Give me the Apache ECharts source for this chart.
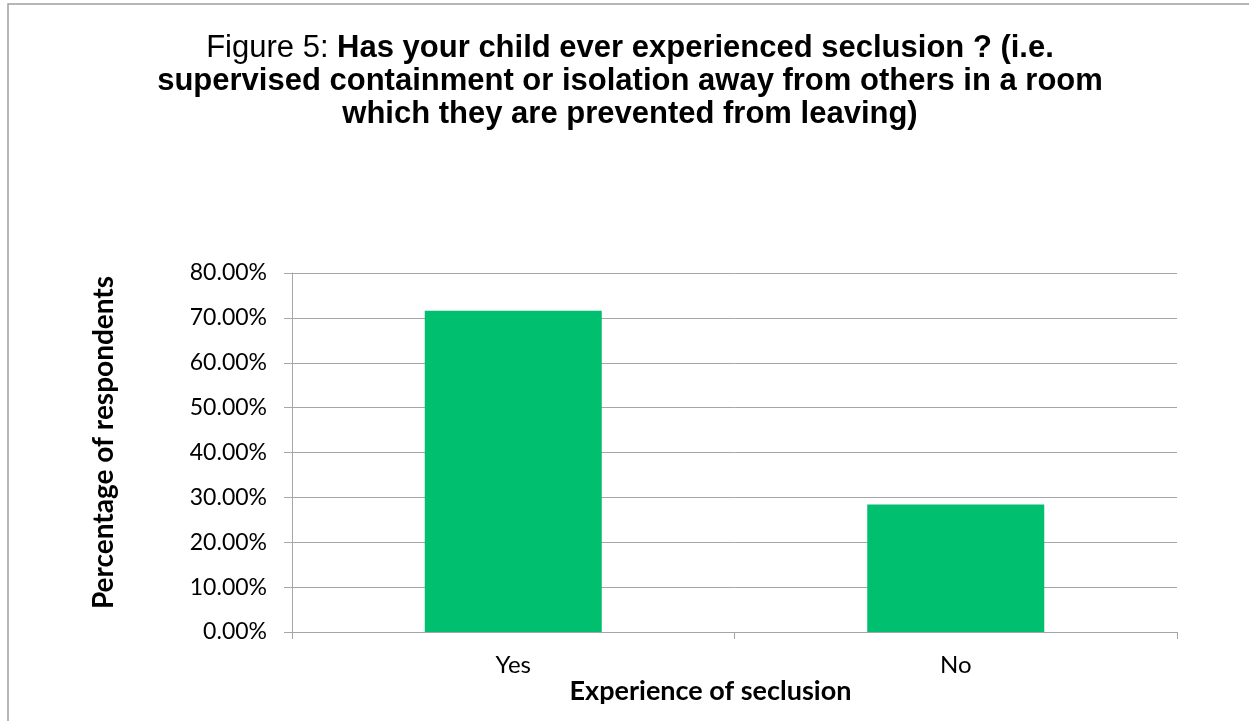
<!DOCTYPE html>
<html>
<head>
<meta charset="utf-8">
<script src="https://cdn.jsdelivr.net/npm/echarts@6/dist/echarts.min.js"></script>
<style>
html,body{margin:0;padding:0;background:#fff;}
#chart{width:1249px;height:721px;}
</style>
</head>
<body>
<div id="chart"></div>
<script>
const categories = ['Yes', 'No'];
const percentValues = [71.6, 28.4];
const yTicks = [0, 10, 20, 30, 40, 50, 60, 70, 80];

const titlePrefix = 'Figure 5: ';
const titleLines = [
  'Has your child ever experienced seclusion ? (i.e.',
  'supervised containment or isolation away from others in a room',
  'which they are prevented from leaving)'
];
const xAxisTitle = 'Experience of seclusion';
const yAxisTitle = 'Percentage of respondents';

const chart = echarts.init(document.getElementById('chart'), null, {renderer: 'canvas'});
const gridColor = '#a6a6a6';
const labelFont = 'Lato, "Open Sans", sans-serif';
const titleFont = '"Liberation Sans", Arial, sans-serif';

chart.setOption({
  animation: false,
  backgroundColor: '#fff',
  graphic: [{
    type: 'rect',
    shape: {x: 8, y: 4, width: 1400, height: 900},
    style: {fill: 'none', stroke: '#a0a0a0', lineWidth: 1.5},
    silent: true
  }],
  title: {
    left: 625,
    top: 27,
    textAlign: 'center',
    text: '{n|' + titlePrefix + '}{b|' + titleLines[0] + '}\n{b|' + titleLines[1] + '}\n{b|' + titleLines[2] + '}',
    textStyle: {
      lineHeight: 33,
      rich: {
        n: {fontFamily: titleFont, fontSize: 31, fontWeight: 'normal', color: '#000', lineHeight: 33},
        b: {fontFamily: titleFont, fontSize: 31, fontWeight: 'bold', color: '#000', lineHeight: 33}
      }
    }
  },
  grid: {left: 292, right: 72, top: 273, bottom: 89, containLabel: false},
  xAxis: {
    type: 'category',
    data: categories,
    boundaryGap: true,
    name: xAxisTitle,
    nameLocation: 'middle',
    nameGap: 36,
    nameTextStyle: {fontFamily: labelFont, fontSize: 27, fontWeight: 'bold', color: '#000', padding: [0, 48, 0, 0]},
    axisLine: {show: true, lineStyle: {color: gridColor, width: 1}},
    axisTick: {show: true, length: 7, lineStyle: {color: gridColor}},
    axisLabel: {fontFamily: labelFont, fontSize: 24, color: '#000', margin: 21},
    splitLine: {show: false}
  },
  yAxis: {
    type: 'value',
    min: 0,
    max: 80,
    interval: 10,
    name: yAxisTitle,
    nameLocation: 'middle',
    nameGap: 174,
    nameRotate: 90,
    nameTextStyle: {fontFamily: labelFont, fontSize: 28, fontWeight: 'bold', color: '#000', padding: [0, 0, 0, 20]},
    axisLine: {show: true, lineStyle: {color: gridColor, width: 1}},
    axisTick: {show: true, inside: false, length: 8, lineStyle: {color: gridColor}},
    axisLabel: {
      fontFamily: labelFont, fontSize: 23, color: '#000', margin: 25,
      formatter: function (v) { return yTicks.indexOf(v) >= 0 ? v.toFixed(2) + '%' : ''; }
    },
    splitLine: {show: true, lineStyle: {color: gridColor, width: 1}}
  },
  series: [{
    type: 'bar',
    data: percentValues,
    barWidth: '40%',
    itemStyle: {color: '#00bf6f'}
  }]
});
</script>
</body>
</html>
